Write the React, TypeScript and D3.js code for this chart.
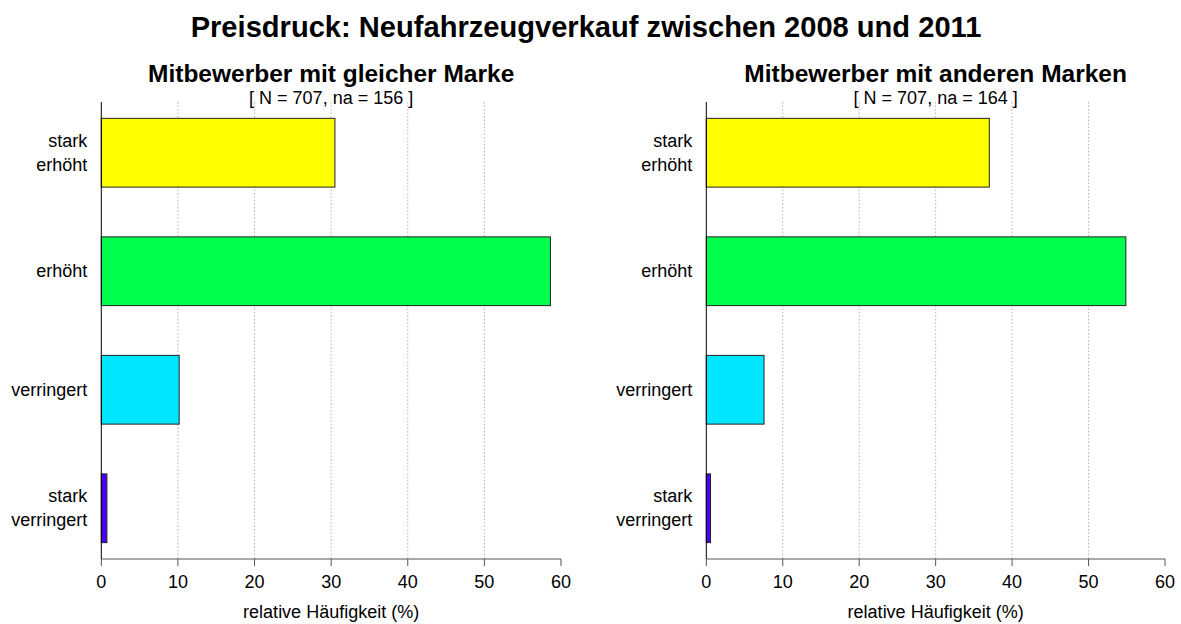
import React from "react";
import * as d3 from "d3";

const categories = ["stark\nerhöht", "erhöht", "verringert", "stark\nverringert"];
const barColors = ["#FFFF00", "#00FF4C", "#00E6FF", "#4C00FF"];
const valuesGleicheMarke = [30.49, 58.62, 10.16, 0.73];
const valuesAndereMarken = [37.02, 54.88, 7.55, 0.55];
const panelTitles = ["Mitbewerber mit gleicher Marke", "Mitbewerber mit anderen Marken"];
const panelNotes = ["[ N = 707, na = 156 ]", "[ N = 707, na = 164 ]"];
const xTicks = [0, 10, 20, 30, 40, 50, 60];
const gridTicks = [10, 20, 30, 40, 50];
const mainTitle = "Preisdruck: Neufahrzeugverkauf zwischen 2008 und 2011";
const xLabel = "relative Häufigkeit (%)";

const W = 1181;
const H = 624;
const FONT = "'Liberation Sans', Arial, Helvetica, sans-serif";
const FS = 18;

type PanelProps = { x0: number; x1: number; values: number[]; title: string; note: string };

function Panel({ x0, x1, values, title, note }: PanelProps) {
  const top = 102;
  const bottom = 559;
  const x = d3.scaleLinear().domain([0, 60]).range([x0, x1]);
  const y = d3
    .scaleBand<string>()
    .domain(categories)
    .range([top, bottom])
    .paddingInner(0.42)
    .paddingOuter(0.138);
  const cx = (x0 + x1) / 2;
  return (
    <g>
      <text x={cx} y={82} textAnchor="middle" fontWeight="bold" fontSize={24.5} fontFamily={FONT}>
        {title}
      </text>
      <text x={cx} y={104} textAnchor="middle" fontSize={FS} fontFamily={FONT}>
        {note}
      </text>
      {gridTicks.map((t) => (
        <line
          key={"g" + t}
          x1={x(t)}
          x2={x(t)}
          y1={top}
          y2={bottom}
          stroke="#b4b4b4"
          strokeWidth={1}
          strokeDasharray="1.5,2"
        />
      ))}
      {categories.map((c, i) => (
        <rect
          key={"b" + i}
          x={x(0)}
          y={y(c)}
          width={x(values[i]) - x(0)}
          height={y.bandwidth()}
          fill={barColors[i]}
          stroke="#222"
          strokeWidth={1}
        />
      ))}
      <line x1={x(0)} x2={x(0)} y1={top} y2={bottom} stroke="#000" strokeWidth={1} />
      <line x1={x(0)} x2={x(60)} y1={bottom} y2={bottom} stroke="#555" strokeWidth={1} />
      {xTicks.map((t) => (
        <g key={"t" + t}>
          <line x1={x(t)} x2={x(t)} y1={bottom} y2={bottom + 7} stroke="#555" strokeWidth={1} />
          <text x={x(t)} y={588} textAnchor="middle" fontSize={FS} fontFamily={FONT}>
            {t}
          </text>
        </g>
      ))}
      <text x={cx} y={618} textAnchor="middle" fontSize={FS} fontFamily={FONT}>
        {xLabel}
      </text>
      {categories.map((c, i) => {
        const lines = c.split("\n");
        const mid = (y(c) as number) + y.bandwidth() / 2;
        const lh = 24;
        const first = mid + 6 - ((lines.length - 1) * lh) / 2;
        return (
          <text key={"c" + i} x={x(0) - 14} textAnchor="end" fontSize={FS} fontFamily={FONT}>
            {lines.map((l, j) => (
              <tspan key={j} x={x(0) - 14} y={first + j * lh}>
                {l}
              </tspan>
            ))}
          </text>
        );
      })}
    </g>
  );
}

export default function App() {
  return (
    <svg
      width={W}
      height={H}
      style={{ position: "absolute", left: 0, top: 0, background: "#fff" }}
    >
      <rect x={0} y={0} width={W} height={H} fill="#fff" />
      <text x={586} y={37} textAnchor="middle" fontWeight="bold" fontSize={29.1} fontFamily={FONT}>
        {mainTitle}
      </text>
      <Panel x0={101.3} x1={561} values={valuesGleicheMarke} title={panelTitles[0]} note={panelNotes[0]} />
      <Panel x0={706.3} x1={1165} values={valuesAndereMarken} title={panelTitles[1]} note={panelNotes[1]} />
    </svg>
  );
}
